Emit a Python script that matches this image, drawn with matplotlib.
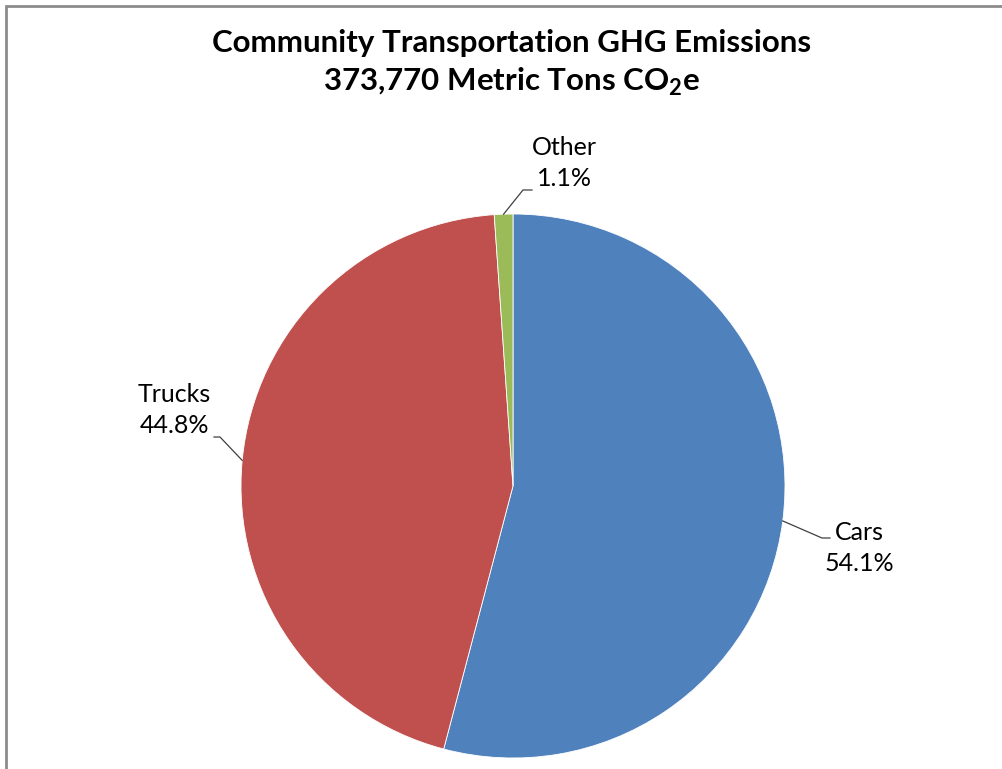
import numpy as np
import matplotlib
matplotlib.use("Agg")
import matplotlib.pyplot as plt
from matplotlib.patches import Rectangle

# Data
categories = ["Cars", "Trucks", "Other"]
shares = [54.1, 44.8, 1.1]
colors = ["#4F81BD", "#C0504D", "#9BBB59"]
title_lines = ["Community Transportation GHG Emissions",
               r"373,770 Metric Tons CO$_{\mathbf{2}}$e"]

plt.rcParams["font.family"] = ["Lato", "DejaVu Sans"]
plt.rcParams["mathtext.fontset"] = "custom"
plt.rcParams["mathtext.rm"] = "Lato"
plt.rcParams["mathtext.bf"] = "Lato:bold"

W, H = 1003, 769
fig = plt.figure(figsize=(W / 100, H / 100), dpi=100)
ax = fig.add_axes([0, 0, 1, 1])

# chart frame (cut by the image on right and bottom)
ax.add_patch(Rectangle((6.5, -10), W + 20, H - 5.5 + 10, fill=False,
                       edgecolor="#8c8c8c", linewidth=2))

# pie
cx, cy, r = 513, H - 486, 272
wedges, _ = ax.pie(shares, colors=colors, startangle=90, counterclock=False,
                   center=(cx, cy), radius=r, frame=True,
                   wedgeprops=dict(edgecolor="white", linewidth=0.6))
ax.set_xlim(0, W)
ax.set_ylim(0, H)
ax.set_aspect("equal")
ax.axis("off")

# labels with leader lines: (elbow, line end, text centre)
label_layout = {
    "Cars": ((822, 538), (830, 538), (859, 548)),
    "Trucks": ((220, 437), (214, 437), (174, 410)),
    "Other": ((523, 190), (532, 190), (564, 163)),
}
for w, name, val in zip(wedges, categories, shares):
    mid = np.deg2rad((w.theta1 + w.theta2) / 2)
    p0 = (cx + r * np.cos(mid), cy + r * np.sin(mid))
    elbow, end, txt = label_layout[name]
    ax.plot([p0[0], elbow[0], end[0]], [p0[1], H - elbow[1], H - end[1]],
            color="#404040", linewidth=0.9)
    ax.text(txt[0], H - txt[1], f"{name}\n{val:.1f}%", ha="center",
            va="center", fontsize=18, linespacing=1.45, color="black")

# title
ax.text(W / 2 + 10, H - 43, title_lines[0], ha="center", va="center",
        fontsize=22.5, fontweight="bold")
ax.text(W / 2 + 10, H - 82, title_lines[1], ha="center", va="center",
        fontsize=22.5, fontweight="bold")

fig.savefig("out.png", dpi=100)
